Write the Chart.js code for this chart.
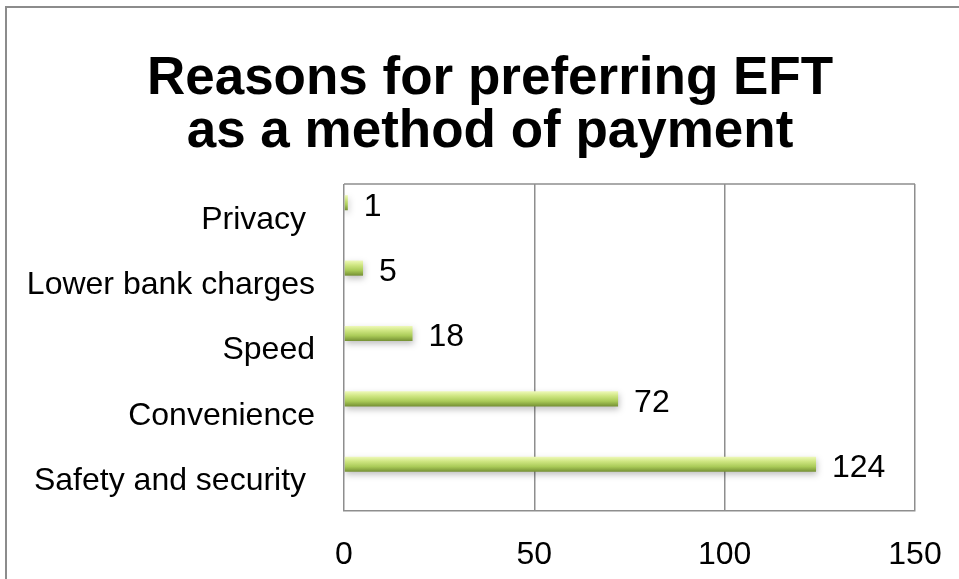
<!DOCTYPE html>
<html>
<head>
<meta charset="utf-8">
<script src="https://cdn.jsdelivr.net/npm/chart.js@4.4.1/dist/chart.umd.min.js"></script>
<style>
    html, body { margin: 0; padding: 0; background: #fff; overflow: hidden; }
    #frame {
        position: absolute; left: 5px; top: 6px;
        width: 1000px; height: 1000px;
        border: 2px solid #8c8c8c;
        pointer-events: none;
    }
    #wrap { position: absolute; left: 0; top: 0; width: 959px; height: 579px; }
</style>
</head>
<body>
<div id="frame"></div>
<div id="wrap"><canvas id="myChart" width="959" height="579"></canvas></div>
<script>
const reasons = ['Privacy ', 'Lower bank charges', 'Speed', 'Convenience', 'Safety and security '];
const responses = [1, 5, 18, 72, 124];
const xTicks = [0, 50, 100, 150];

const labelFont = { family: 'Liberation Sans, Arial, sans-serif', size: 32 };

// green bars with a soft drop shadow and a top-to-bottom shine
const barStyle = {
    id: 'barStyle',
    beforeDatasetDraw(chart, args) {
        if (args.index !== 0) return;
        const ctx = chart.ctx;
        args.meta.data.forEach((bar) => {
            const top = bar.y - bar.height / 2;
            const g = ctx.createLinearGradient(0, top, 0, top + bar.height);
            g.addColorStop(0, '#eef9b8');
            g.addColorStop(0.3, '#cfe682');
            g.addColorStop(0.65, '#aacb58');
            g.addColorStop(1, '#748f33');
            bar.options = Object.assign({}, bar.options, { backgroundColor: g });
        });
        ctx.save();
        ctx.shadowColor = 'rgba(0,0,0,0.25)';
        ctx.shadowBlur = 6;
        ctx.shadowOffsetY = 3;
        ctx.shadowOffsetX = 1;
    },
    afterDatasetDraw(chart, args) {
        if (args.index !== 0) return;
        chart.ctx.restore();
    }
};

// value next to the end of each bar, plus the top edge of the plot box
const valueLabels = {
    id: 'valueLabels',
    afterDatasetsDraw(chart) {
        const ctx = chart.ctx;
        const area = chart.chartArea;
        ctx.save();
        ctx.strokeStyle = '#8e8e8e';
        ctx.lineWidth = 1.5;
        ctx.beginPath();
        ctx.moveTo(area.left, area.top);
        ctx.lineTo(area.right, area.top);
        ctx.stroke();

        ctx.fillStyle = '#000';
        ctx.font = '32px "Liberation Sans", Arial, sans-serif';
        ctx.textAlign = 'left';
        ctx.textBaseline = 'middle';
        chart.getDatasetMeta(0).data.forEach((bar, i) => {
            ctx.fillText(String(responses[i]), bar.x + 16, bar.y + 4);
        });
        ctx.restore();
    }
};

const ctx = document.getElementById('myChart');

new Chart(ctx, {
    type: 'bar',
    data: {
        labels: reasons,
        datasets: [{
            label: 'Responses',
            data: responses,
            backgroundColor: '#9bbb59',
            borderWidth: 0,
            categoryPercentage: 0.856,
            barPercentage: 0.54
        }, {
            // empty slot under each bar
            label: '',
            data: reasons.map(() => null),
            backgroundColor: 'rgba(0,0,0,0)',
            categoryPercentage: 0.856,
            barPercentage: 0.54
        }]
    },
    options: {
        indexAxis: 'y',
        responsive: false,
        animation: false,
        layout: { padding: { left: 21, right: 0, top: 0, bottom: 7 } },
        plugins: {
            legend: { display: false },
            tooltip: { enabled: false },
            title: {
                display: true,
                text: ['Reasons for preferring EFT', 'as a method of payment'],
                color: '#000',
                font: { family: 'Liberation Sans, Arial, sans-serif', size: 53, weight: 'bold', lineHeight: 1.0 },
                padding: { top: 53, bottom: 25 }
            }
        },
        scales: {
            x: {
                min: 0,
                max: 150,
                afterBuildTicks: (scale) => {
                    scale.ticks = xTicks.map((v) => ({ value: v }));
                },
                afterFit: (scale) => {
                    scale.height = 61;
                    scale.paddingLeft = 0;
                    scale.paddingRight = 0;
                },
                grid: { color: '#8e8e8e', lineWidth: 1.5, drawTicks: false },
                border: { display: true, color: '#8e8e8e', width: 1.5 },
                ticks: { color: '#000', font: labelFont, padding: 25 }
            },
            y: {
                afterFit: (scale) => {
                    scale.width = 323;
                    scale.paddingTop = 0;
                    scale.paddingBottom = 0;
                },
                grid: { display: false, drawTicks: false },
                border: { display: false },
                ticks: { color: '#000', font: labelFont, padding: 29, labelOffset: 3, autoSkip: false }
            },
            // blank strip on the right so the last x label has room
            y2: {
                type: 'category',
                position: 'right',
                afterFit: (scale) => {
                    scale.width = 44;
                    scale.paddingTop = 0;
                    scale.paddingBottom = 0;
                },
                grid: { display: false, drawTicks: false },
                border: { display: false },
                ticks: { display: false }
            }
        }
    },
    plugins: [barStyle, valueLabels]
});
</script>
</body>
</html>
